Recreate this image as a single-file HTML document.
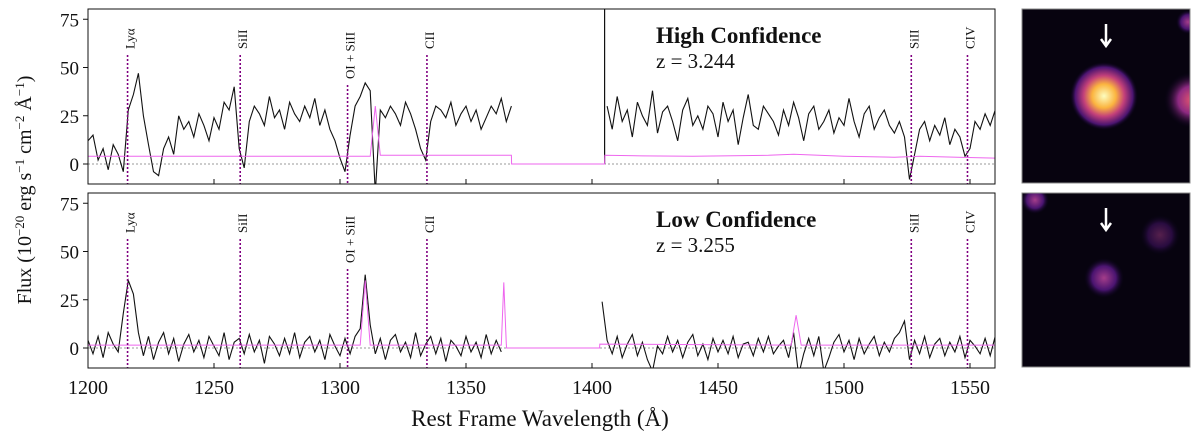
<!DOCTYPE html>
<html><head><meta charset="utf-8"><style>
html,body{margin:0;padding:0;background:#fff;width:1200px;height:442px;overflow:hidden}
svg text{font-family:"Liberation Serif",serif;fill:#111}
</style></head><body>
<svg id="chart" width="1200" height="442" xmlns="http://www.w3.org/2000/svg">
<defs>
<radialGradient id="g1" cx="50%" cy="50%" r="50%"><stop offset="0" stop-color="#fcfdbf"/><stop offset="0.35" stop-color="#fbb43f"/><stop offset="0.6" stop-color="#c3407a"/><stop offset="0.85" stop-color="#4a1470"/><stop offset="1" stop-color="#0b0420" stop-opacity="0"/></radialGradient>
<radialGradient id="g2" cx="50%" cy="50%" r="50%"><stop offset="0" stop-color="#e5566f"/><stop offset="0.5" stop-color="#8c2981"/><stop offset="1" stop-color="#0b0420" stop-opacity="0"/></radialGradient>
<radialGradient id="g3" cx="50%" cy="50%" r="50%"><stop offset="0" stop-color="#a43d8a"/><stop offset="0.6" stop-color="#4a1470"/><stop offset="1" stop-color="#0b0420" stop-opacity="0"/></radialGradient>
<clipPath id="c1"><rect x="88" y="9" width="907" height="175"/></clipPath>
<clipPath id="c2"><rect x="88" y="193" width="907" height="175"/></clipPath>
<clipPath id="ci1"><rect x="1022" y="9" width="168" height="174"/></clipPath>
<clipPath id="ci2"><rect x="1022" y="193" width="168" height="174"/></clipPath>
</defs>
<g id="panels"></g>
<g clip-path="url(#ci1)">
<rect x="1022" y="9" width="168" height="174" fill="#07030f"/>
<circle cx="1104" cy="96" r="34" fill="url(#g1)"/>
<circle cx="1192" cy="100" r="28" fill="url(#g2)"/>
<circle cx="1188" cy="22" r="12" fill="url(#g3)"/>
<path d="M1106 24 V44 M1101 39 L1106 46 L1111 39" stroke="#fff" stroke-width="2.5" fill="none"/>
</g>
<rect x="1022" y="9" width="168" height="174" fill="none" stroke="#888" stroke-width="1"/>
<g clip-path="url(#ci2)">
<rect x="1022" y="193" width="168" height="174" fill="#07030f"/>
<circle cx="1104" cy="278" r="20" fill="url(#g3)"/>
<circle cx="1035" cy="200" r="14" fill="url(#g3)"/>
<circle cx="1160" cy="235" r="20" fill="url(#g3)" opacity="0.5"/>
<path d="M1106 208 V228 M1101 223 L1106 230 L1111 223" stroke="#fff" stroke-width="2.5" fill="none"/>
</g>
<rect x="1022" y="193" width="168" height="174" fill="none" stroke="#888" stroke-width="1"/>
<text x="540" y="426" font-size="23" text-anchor="middle">Rest Frame Wavelength (Å)</text>
<text transform="translate(31,190) rotate(-90)" font-size="20" text-anchor="middle">Flux (10<tspan dy="-7" font-size="13">−20</tspan><tspan dy="7"> erg s</tspan><tspan dy="-7" font-size="13">−1</tspan><tspan dy="7"> cm</tspan><tspan dy="-7" font-size="13">−2</tspan><tspan dy="7"> Å</tspan><tspan dy="-7" font-size="13">−1</tspan><tspan dy="7">)</tspan></text>
</svg>
<script>
const xTicks=[1200,1250,1300,1350,1400,1450,1500,1550];
const yTicks=[0,25,50,75];
const lineNames=["Lyα","SiII","OI + SiII","CII","SiII","CIV"];
const lineWaves=[1215.7,1260.4,1303,1334.5,1526.7,1549];
const topWaveA=1200, topWaveB=1406, botWaveA=1200, botWaveB=1404;
const topFluxA=[12,15,2,8,-3,10,5,-4,28,36,47,25,10,-4,-6,8,14,5,25,18,22,14,26,20,12,24,18,32,28,40,8,-2,22,30,26,20,35,24,28,18,32,26,22,30,24,34,20,28,18,12,3,-4,15,30,35,42,38,-15,28,24,30,26,20,32,26,18,8,2,22,30,28,24,32,20,26,30,22,28,18,24,30,26,34,22,30];
const topFluxB=[30,18,35,22,28,14,32,25,20,38,16,27,30,22,12,28,34,20,25,18,30,26,14,32,22,28,10,24,36,20,18,30,26,22,15,28,20,32,24,12,26,30,18,22,28,16,24,20,34,22,14,26,30,18,24,28,20,16,22,14,-8,5,18,22,12,20,15,24,10,18,14,4,8,22,18,26,20,28,24];
const botFluxA=[4,-3,6,-5,8,2,-2,18,35,28,8,-4,6,-6,3,8,-3,5,-7,2,7,-2,4,-5,6,1,-4,8,-6,3,5,-3,7,-2,4,-8,6,2,-4,5,-3,8,-5,3,6,-2,4,-6,7,1,-4,5,-3,6,10,38,12,-3,5,-6,4,7,-2,3,-5,8,-4,2,6,-3,5,-7,4,1,-4,6,-2,3,-5,7,-3,4,-2];
const botFluxB=[24,4,-3,6,-5,2,7,-4,3,-6,-12,1,-3,6,-2,4,-5,3,7,-4,2,-6,5,-2,4,-3,6,-5,2,3,-4,5,-2,6,-3,1,4,-5,8,-14,-3,5,-4,6,-12,-5,3,7,-2,4,-6,5,-3,2,6,-4,3,-2,5,8,14,-6,4,-3,6,-5,2,5,-4,3,-2,6,-5,4,1,-3,5,-4,6,2];
const topErrWave=[1200,1312,1314,1316,1368,1368.1,1405,1405.1,1420,1440,1470,1480,1490,1500,1520,1530,1545,1562];
const topErrVal=[4,4,30,4.5,4.5,0,0,4.5,4.2,4,4.5,5,4.5,4,3.5,4,3.5,3];
const botErrWave=[1200,1308,1310,1312,1364,1365,1366,1366.1,1403,1403.1,1479,1481,1483,1562];
const botErrVal=[1.5,1.5,35,1.5,1.5,34,2,0,0,2,1.5,17,1.5,1.5];
const NS="http://www.w3.org/2000/svg";
const panelsG=document.getElementById('panels');
const X0=88,PXA=2.52;
function xs(w){return X0+(w-1200)*PXA;}
function mk(tag,attrs,parent){const e=document.createElementNS(NS,tag);for(const k in attrs)e.setAttribute(k,attrs[k]);(parent||panelsG).appendChild(e);return e;}
function linePath(w0,vals,ys){let d='';vals.forEach((v,i)=>{d+=(i?'L':'M')+xs(w0+i*2).toFixed(1)+' '+ys(v).toFixed(1);});return d;}
function panel(top,name,fa,wa,fb,wb,ew,ev,title,z,showX,gapLine){
  const zeroY=top+155, ys=v=>zeroY-v*1.93;
  const g=mk('g',{});
  
  
  const cg=mk('g',{'clip-path':'url(#'+(top<100?'c1':'c2')+')'},g);
  const zl=mk('line',{x1:88,x2:995,y1:ys(0),y2:ys(0),stroke:'#999','stroke-width':1,'stroke-dasharray':'2,2'},cg);
  
  const f1=mk('path',{d:linePath(wa,fa,ys),fill:'none',stroke:'#111','stroke-width':1.1},cg);
  
  const f2=mk('path',{d:linePath(wb,fb,ys),fill:'none',stroke:'#111','stroke-width':1.1},cg);
  
  if(gapLine){const gl=mk('line',{x1:xs(1405),x2:xs(1405),y1:ys(0),y2:top,stroke:'#111','stroke-width':1.2},cg);}
  let d='';ew.forEach((w,i)=>{d+=(i?'L':'M')+xs(w).toFixed(1)+' '+ys(ev[i]).toFixed(1);});
  const ep=mk('path',{d:d,fill:'none',stroke:'#ee66ee','stroke-width':1},cg);
  
  lineWaves.forEach((w,i)=>{
    const tall=lineNames[i].length>5;
    const ln=mk('line',{x1:xs(w),x2:xs(w),y1:tall?top+76:top+46,y2:top+175,stroke:'#800080','stroke-width':1.6,'stroke-dasharray':'2,2'},g);
    
    const t=mk('text',{transform:'translate('+(xs(w)+7)+','+(tall?top+70:top+40)+') rotate(-90)','font-size':13},g);
    t.textContent=lineNames[i];
    
  });
  const fr=mk('rect',{x:88,y:top,width:907,height:175,fill:'none',stroke:'#111','stroke-width':1},g);
  
  yTicks.forEach(v=>{
    mk('line',{x1:83,x2:88,y1:ys(v),y2:ys(v),stroke:'#111'},g);
    const t=mk('text',{x:79,y:ys(v)+7,'font-size':19,'text-anchor':'end'},g);t.textContent=v;
    
  });
  xTicks.forEach(v=>{
    mk('line',{x1:xs(v),x2:xs(v),y1:top+175,y2:top+170,stroke:'#111'},g);
    if(showX){const t=mk('text',{x:xs(v),y:top+201,'font-size':20,'text-anchor':'middle'},g);t.textContent=v;
    }
  });
  const tt=mk('text',{x:656,y:top+34,'font-size':23,'font-weight':'bold'},g);tt.textContent=title;
  
  const zt=mk('text',{x:656,y:top+59,'font-size':21},g);zt.textContent=z;
  
}
panel(9,'panel-high-confidence',topFluxA,topWaveA,topFluxB,topWaveB,topErrWave,topErrVal,'High Confidence','z = 3.244',false,true);
panel(193,'panel-low-confidence',botFluxA,botWaveA,botFluxB,botWaveB,botErrWave,botErrVal,'Low Confidence','z = 3.255',true,false);
</script>
</body></html>
